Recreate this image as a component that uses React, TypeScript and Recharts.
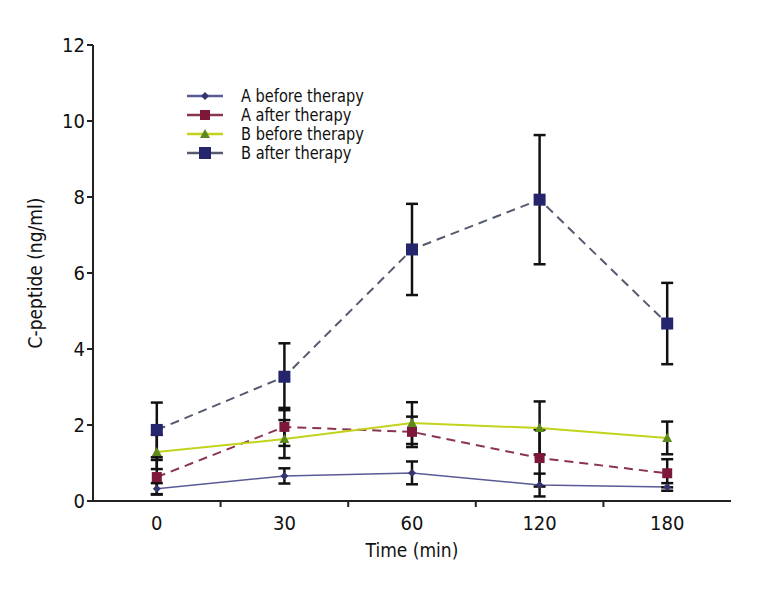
import { LineChart, Line, XAxis, YAxis, ErrorBar, Legend } from 'recharts';

const times = ['0', '30', '60', '120', '180'];
const aBefore = [0.32, 0.66, 0.74, 0.42, 0.37];
const aBeforeErr = [0.15, 0.2, 0.3, 0.3, 0.1];
const aAfter = [0.63, 1.95, 1.82, 1.13, 0.73];
const aAfterErr = [0.45, 0.5, 0.4, 0.75, 0.37];
const bBefore = [1.29, 1.63, 2.05, 1.92, 1.66];
const bBeforeErr = [0.45, 0.5, 0.55, 0.7, 0.43];
const bAfter = [1.87, 3.27, 6.62, 7.93, 4.67];
const bAfterErr = [0.72, 0.88, 1.2, 1.7, 1.07];
const yTicks = [0, 2, 4, 6, 8, 10, 12];

const data = times.map((t, i) => ({
  pos: i + 0.5,
  time: t,
  aBefore: aBefore[i],
  aBeforeErr: aBeforeErr[i],
  aAfter: aAfter[i],
  aAfterErr: aAfterErr[i],
  bBefore: bBefore[i],
  bBeforeErr: bBeforeErr[i],
  bAfter: bAfter[i],
  bAfterErr: bAfterErr[i],
}));

// x ticks: band centres get labels, band edges get tick marks
const xTicks = [0.5, 1, 1.5, 2, 2.5, 3, 3.5, 4, 4.5];

const FONT = '"Liberation Sans Narrow", "DejaVu Sans Condensed", "Roboto Condensed", sans-serif';

const Marker = ({ kind, cx, cy }: any) => {
  if (kind === 'diamond') {
    return <polygon points={`${cx},${cy - 4} ${cx + 4},${cy} ${cx},${cy + 4} ${cx - 4},${cy}`} fill="#34346e" />;
  }
  if (kind === 'smallSquare') {
    return <rect x={cx - 5} y={cy - 5} width={10} height={10} fill="#7e1838" />;
  }
  if (kind === 'triangle') {
    return <polygon points={`${cx},${cy - 5} ${cx + 5},${cy + 4} ${cx - 5},${cy + 4}`} fill="#5e8a1c" />;
  }
  return <rect x={cx - 6} y={cy - 6} width={12} height={12} fill="#25256e" />;
};

const series = [
  { key: 'aBefore', name: 'A before therapy', color: '#5a5a96', dash: undefined, width: 1.5, marker: 'diamond' },
  { key: 'aAfter', name: 'A after therapy', color: '#8a3450', dash: '9 6', width: 2, marker: 'smallSquare' },
  { key: 'bBefore', name: 'B before therapy', color: '#c3d31c', dash: undefined, width: 2, marker: 'triangle' },
  { key: 'bAfter', name: 'B after therapy', color: '#555a70', dash: '9 6', width: 2, marker: 'square' },
];

const XTick = ({ x, y, payload }: any) => {
  const v = payload.value;
  if (Number.isInteger(v)) {
    return <line x1={x} x2={x} y1={y - 8} y2={y - 2} stroke="#222" strokeWidth={2} />;
  }
  return (
    <text x={x} y={y + 21} textAnchor="middle" fontSize={20} fontFamily={FONT} fill="#111">
      {times[Math.floor(v)]}
    </text>
  );
};

const LegendBox = () => (
  <div style={{ fontFamily: FONT, fontSize: 18, color: '#111', lineHeight: '19px' }}>
    {series.map((s) => (
      <div key={s.key} style={{ display: 'flex', alignItems: 'center', height: 19 }}>
        <svg width={56} height={19}>
          <line x1={2} x2={38} y1={10} y2={10} stroke={s.color} strokeWidth={2.5} />
          <Marker kind={s.marker} cx={20} cy={10} />
        </svg>
        <span style={{ display: 'inline-block', transform: 'scaleX(0.9)', transformOrigin: 'left center', whiteSpace: 'nowrap' }}>
          {s.name}
        </span>
      </div>
    ))}
  </div>
);

export default function App() {
  return (
    <LineChart width={760} height={592} data={data} margin={{ top: 37, right: 37, left: 15, bottom: 43 }}>
      <XAxis
        dataKey="pos"
        type="number"
        domain={[0, 5]}
        ticks={xTicks}
        interval={0}
        tick={<XTick />}
        tickLine={false}
        axisLine={{ stroke: '#222', strokeWidth: 2 }}
        height={56}
        label={{ value: 'Time (min)', position: 'insideBottom', offset: 0, fontSize: 19, fontFamily: FONT, fill: '#111' }}
      />
      <YAxis
        domain={[0, 12]}
        ticks={yTicks}
        width={70}
        tickSize={6}
        tick={{ fontSize: 20, fontFamily: FONT, fill: '#111' }}
        tickLine={{ stroke: '#222', strokeWidth: 2 }}
        axisLine={{ stroke: '#222', strokeWidth: 2 }}
        label={{ value: 'C-peptide (ng/ml)', angle: -90, position: 'insideLeft', offset: 12, fontSize: 19, fontFamily: FONT, fill: '#111', style: { textAnchor: 'middle' } }}
      />
      <Legend
        layout="horizontal"
        verticalAlign="middle"
        align="center"
        content={<LegendBox />}
        wrapperStyle={{ left: 177, top: 78, width: 'auto' }}
      />
      {series.map((s) => (
        <Line
          key={s.key}
          dataKey={s.key}
          name={s.name}
          stroke={s.color}
          strokeWidth={s.width}
          strokeDasharray={s.dash}
          isAnimationActive={false}
          dot={(p: any) => <Marker key={`${s.key}-${p.index}`} kind={s.marker} cx={p.cx} cy={p.cy} />}
          activeDot={false}
        >
          <ErrorBar dataKey={`${s.key}Err`} width={6} stroke="#111" strokeWidth={2.5} direction="y" />
        </Line>
      ))}
    </LineChart>
  );
}
